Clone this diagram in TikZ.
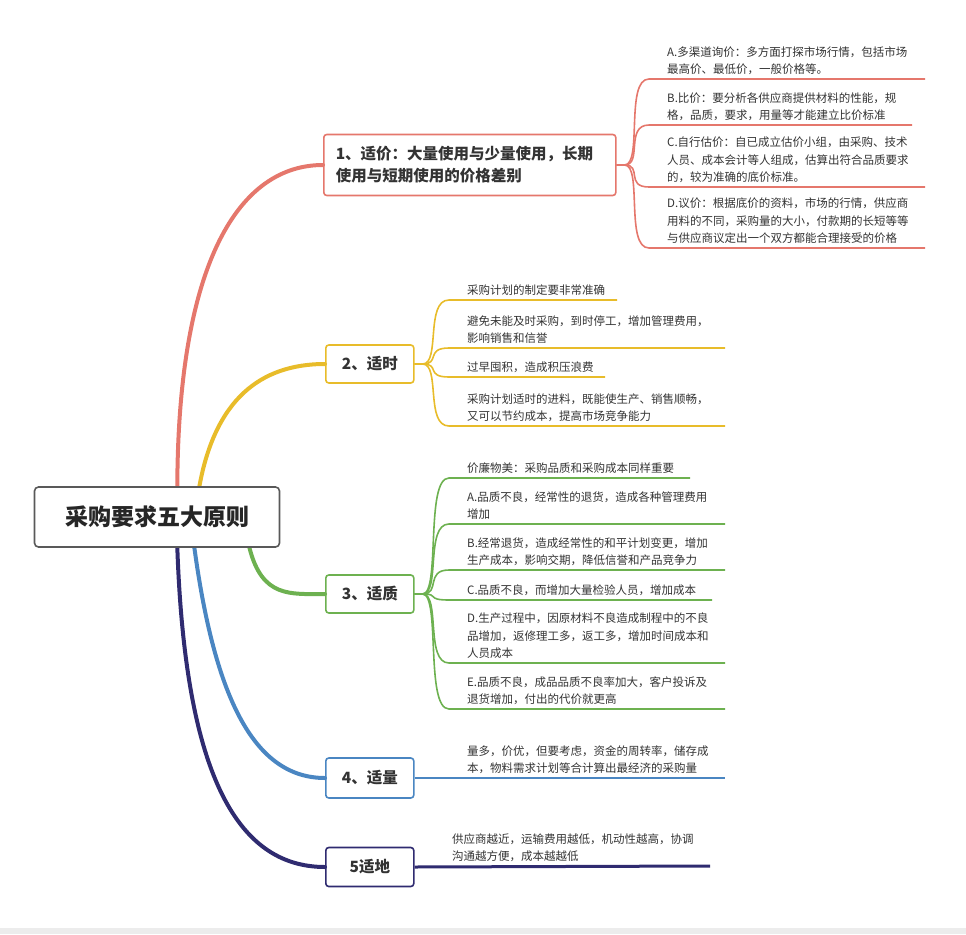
\documentclass[tikz,border=0pt]{standalone}
\usepackage{fontspec}
\setmainfont{Noto Sans CJK SC}
\usetikzlibrary{calc}
\definecolor{cR}{HTML}{E5776C}
\definecolor{cY}{HTML}{E8BC2A}
\definecolor{cG}{HTML}{6DB150}
\definecolor{cB}{HTML}{4A86C2}
\definecolor{cN}{HTML}{2F2B70}
\definecolor{cT}{HTML}{333333}
\tikzset{
  bbox/.style={draw=#1,line width=1.6pt,rounded corners=3pt,fill=white,font=\fontsize{15.5}{22}\selectfont\bfseries,text=cT,inner sep=0pt,align=left},
  leaftxt/.style={anchor=south west,font=\fontsize{11.5}{17.5}\selectfont,text=cT,align=left,inner sep=0pt},
  trunk/.style={draw=#1,line width=4pt,line cap=round},
  twig/.style={draw=#1,line width=1.6pt}
}
\newcommand{\leaf}[7]{% color, branch anchor, name, textx, uy, endx, text
  \coordinate (#3s) at (#4-18,#5);
  \coordinate (#3e) at (#6,#5);
  \node[leaftxt] (#3) at (#4,#5-4) {#7};
  \draw[twig=#1] (#2) -- ++(8,0) .. controls ($(#2)+(26,0)$) and ($(#3s)+(-24,0)$) .. (#3s) -- (#3e);
}
\begin{document}
\begin{tikzpicture}[x=1pt,y=-1pt]
\useasboundingbox (0,0) rectangle (966,934);
\fill[gray!15] (0,928) rectangle (966,934);
% branches
\node[bbox=cR,minimum width=292pt,minimum height=61pt,text width=276pt,anchor=west] (b1) at (323,165) {\hspace*{4pt}1、适价：大量使用与少量使用，长期\\\hspace*{4pt}使用与短期使用的价格差别};
\node[bbox=cY,minimum width=88pt,minimum height=38pt,align=center,anchor=west] (b2) at (325,364) {2、适时};
\node[bbox=cG,minimum width=88pt,minimum height=38pt,align=center,anchor=west] (b3) at (325,594) {3、适质};
\node[bbox=cB,minimum width=88pt,minimum height=40pt,align=center,anchor=west] (b4) at (325,778) {4、适量};
\node[bbox=cN,minimum width=88pt,minimum height=39pt,align=center,anchor=west] (b5) at (325,867) {5适地};
% root placeholder for anchors
\path (157,517) node[minimum width=245pt,minimum height=60pt] (root) {};
% trunks
\draw[trunk=cR] ($(root.north west)+(143,0)$) .. controls (178,260) and (240,165) .. (b1.west);
\draw[trunk=cY] ($(root.north west)+(165,0)$) .. controls (215,400) and (260,364) .. (b2.west);
\draw[trunk=cG] ($(root.south west)+(215,0)$) .. controls (262,598) and (290,594) .. (b3.west);
\draw[trunk=cB] ($(root.south west)+(160,0)$) .. controls (215,700) and (255,778) .. (b4.west);
\draw[trunk=cN] ($(root.south west)+(143,0)$) .. controls (185,770) and (235,867) .. (b5.west);
\node[draw=gray!70!black,line width=1.6pt,rounded corners=4pt,fill=white,minimum width=245pt,minimum height=60pt,font=\fontsize{23}{26}\selectfont\bfseries,text=black!85] (rootbox) at (root) {采购要求五大原则};
% red leaves
\leaf{cR}{b1.east}{r1}{667}{79}{925}{A.多渠道询价：多方面打探市场行情，包括市场\\最高价、最低价，一般价格等。}
\leaf{cR}{b1.east}{r2}{667}{125}{912}{B.比价：要分析各供应商提供材料的性能，规\\格，品质，要求，用量等才能建立比价标准}
\leaf{cR}{b1.east}{r3}{667}{187}{925}{C.自行估价：自已成立估价小组，由采购、技术\\人员、成本会计等人组成，估算出符合品质要求\\的，较为准确的底价标准。}
\leaf{cR}{b1.east}{r4}{667}{248}{925}{D.议价：根据底价的资料，市场的行情，供应商\\用料的不同，采购量的大小，付款期的长短等等\\与供应商议定出一个双方都能合理接受的价格}
% yellow
\leaf{cY}{b2.east}{y1}{467}{300}{617}{采购计划的制定要非常准确}
\leaf{cY}{b2.east}{y2}{467}{348}{725}{避免未能及时采购，到时停工，增加管理费用，\\影响销售和信誉}
\leaf{cY}{b2.east}{y3}{467}{377}{605}{过早囤积，造成积压浪费}
\leaf{cY}{b2.east}{y4}{467}{426}{725}{采购计划适时的进料，既能使生产、销售顺畅，\\又可以节约成本，提高市场竞争能力}
% green
\leaf{cG}{b3.east}{g1}{467}{478}{690}{价廉物美：采购品质和采购成本同样重要}
\leaf{cG}{b3.east}{g2}{467}{524}{725}{A.品质不良，经常性的退货，造成各种管理费用\\增加}
\leaf{cG}{b3.east}{g3}{467}{570}{725}{B.经常退货，造成经常性的和平计划变更，增加\\生产成本，影响交期，降低信誉和产品竞争力}
\leaf{cG}{b3.east}{g4}{467}{600}{712}{C.品质不良，而增加大量检验人员，增加成本}
\leaf{cG}{b3.east}{g5}{467}{663}{725}{D.生产过程中，因原材料不良造成制程中的不良\\品增加，返修理工多，返工多，增加时间成本和\\人员成本}
\leaf{cG}{b3.east}{g6}{467}{709}{725}{E.品质不良，成品品质不良率加大，客户投诉及\\退货增加，付出的代价就更高}
% blue
\coordinate (bl1e) at (725,778);
\node[leaftxt] (bl1) at (467,774) {量多，价优，但要考虑，资金的周转率，储存成\\本，物料需求计划等合计算出最经济的采购量};
\draw[twig=cB] (b4.east) -- (bl1e);
% navy
\coordinate (n1e) at (710,866);
\node[leaftxt] (n1) at (452,862) {供应商越近，运输费用越低，机动性越高，协调\\沟通越方便，成本越越低};
\draw[draw=cN,line width=3pt] (b5.east) -- (n1e);
\end{tikzpicture}
\end{document}
